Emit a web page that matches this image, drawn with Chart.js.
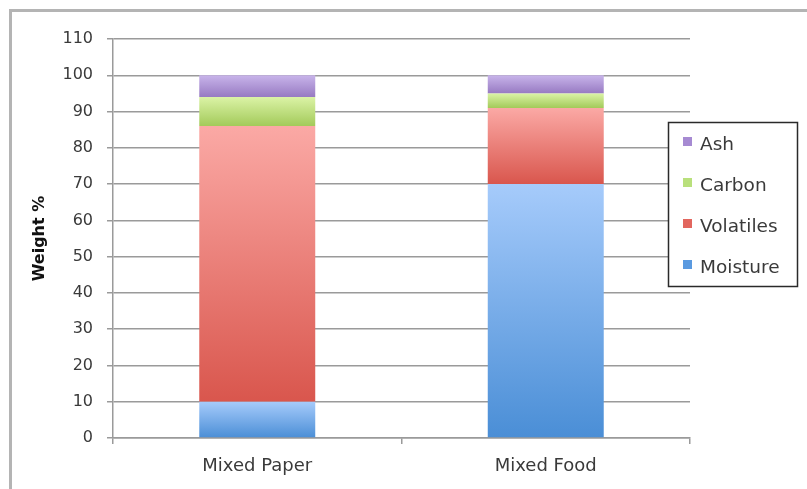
<!DOCTYPE html>
<html>
<head>
<meta charset="utf-8">
<script src="https://cdn.jsdelivr.net/npm/chart.js@4"></script>
<style>
  html, body { margin: 0; padding: 0; background: #ffffff; }
  #wrap { width: 807px; height: 489px; position: relative; }
</style>
</head>
<body>
<div id="wrap"><canvas id="chart" width="807" height="489"></canvas></div>
<script>
// Composition of two waste streams, weight % (stacked bottom to top)
const categories = ['Mixed Paper', 'Mixed Food'];
const moisture  = [10, 70];
const volatiles = [76, 21];
const carbon    = [8, 4];
const ash       = [6, 5];
const yTicks    = [0, 10, 20, 30, 40, 50, 60, 70, 80, 90, 100, 110];

const seriesNames = ['Moisture', 'Volatiles', 'Carbon', 'Ash'];
const seriesData  = [moisture, volatiles, carbon, ash];

// light (top) / dark (bottom) shades for each segment's vertical gradient
const shades = [
  { top: '#a6cbfb', bottom: '#4a8ed6', key: '#5a9ae0' },
  { top: '#fba9a5', bottom: '#d9564d', key: '#e2665e' },
  { top: '#dbf3a6', bottom: '#a3ca5a', key: '#b9e07c' },
  { top: '#c8b4ea', bottom: '#977ac2', key: '#a68ad2' }
];

function segmentFill(dsIndex) {
  return function (ctx) {
    const chart = ctx.chart;
    const y = chart.scales && chart.scales.y;
    if (ctx.type !== 'data' || !y) return shades[dsIndex].key;
    const i = ctx.dataIndex;
    let base = 0;
    for (let k = 0; k < dsIndex; k++) base += seriesData[k][i];
    const top = base + seriesData[dsIndex][i];
    const yTop = y.getPixelForValue(top);
    const yBase = y.getPixelForValue(base);
    if (!isFinite(yTop) || !isFinite(yBase) || yTop === yBase) return shades[dsIndex].key;
    const g = chart.ctx.createLinearGradient(0, yTop, 0, yBase);
    g.addColorStop(0, shades[dsIndex].top);
    g.addColorStop(1, shades[dsIndex].bottom);
    return g;
  };
}

const datasets = seriesNames.map((name, d) => ({
  label: name,
  data: seriesData[d],
  backgroundColor: segmentFill(d),
  borderWidth: 0,
  barPercentage: 0.402,
  categoryPercentage: 1.0
}));

// outer frame of the chart
const framePlugin = {
  id: 'frame',
  beforeDraw(chart) {
    const c = chart.ctx;
    c.save();
    c.strokeStyle = '#b4b4b4';
    c.lineWidth = 3;
    c.strokeRect(10.5, 10.5, 900, 600);
    c.restore();
  }
};

// boxed legend on the right, top series listed first
const legendPlugin = {
  id: 'boxLegend',
  afterDraw(chart) {
    const c = chart.ctx;
    c.save();
    c.fillStyle = '#ffffff';
    c.fillRect(668, 122, 129, 164);
    c.strokeStyle = '#2a2a2a';
    c.lineWidth = 1.5;
    c.strokeRect(668.5, 122.5, 129, 164);
    c.font = '18.5px "DejaVu Sans"';
    c.textBaseline = 'middle';
    c.textAlign = 'left';
    const rowY = [145, 186, 227, 268];
    for (let r = 0; r < seriesNames.length; r++) {
      const d = seriesNames.length - 1 - r;
      const cy = rowY[r];
      c.fillStyle = shades[d].key;
      c.fillRect(683, cy - 8, 9, 9);
      c.fillStyle = '#3a3a3a';
      c.fillText(seriesNames[d], 700, cy);
    }
    c.restore();
  }
};

new Chart(document.getElementById('chart'), {
  type: 'bar',
  data: { labels: categories, datasets: datasets },
  plugins: [framePlugin, legendPlugin],
  options: {
    responsive: false,
    animation: false,
    events: [],
    layout: { padding: { left: 14, top: 39, right: 117, bottom: 0 } },
    plugins: {
      legend: { display: false },
      tooltip: { enabled: false },
      title: { display: false }
    },
    scales: {
      x: {
        stacked: true,
        afterFit(scale) { scale.height = 51; },
        grid: {
          display: true,
          drawOnChartArea: false,
          drawTicks: true,
          tickLength: 6,
          color: '#9a9a9a',
          lineWidth: 1.5
        },
        border: { display: true, color: '#9a9a9a', width: 1.5 },
        ticks: {
          padding: 12,
          color: '#3a3a3a',
          font: { family: 'DejaVu Sans', size: 18 }
        }
      },
      y: {
        stacked: true,
        min: 0,
        max: 110,
        afterFit(scale) { scale.width = 99; },
        afterBuildTicks(scale) { scale.ticks = yTicks.map(v => ({ value: v })); },
        grid: {
          color: '#9a9a9a',
          lineWidth: 1.5,
          drawTicks: true,
          tickLength: 6
        },
        border: { display: true, color: '#9a9a9a', width: 1.5 },
        ticks: {
          padding: 14,
          color: '#3a3a3a',
          font: { family: 'DejaVu Sans', size: 16 }
        },
        title: {
          display: true,
          text: 'Weight %',
          color: '#111111',
          padding: { top: 16, bottom: 0 },
          font: { family: 'DejaVu Sans', size: 16, weight: 'bold' }
        }
      }
    }
  }
});
</script>
</body>
</html>
